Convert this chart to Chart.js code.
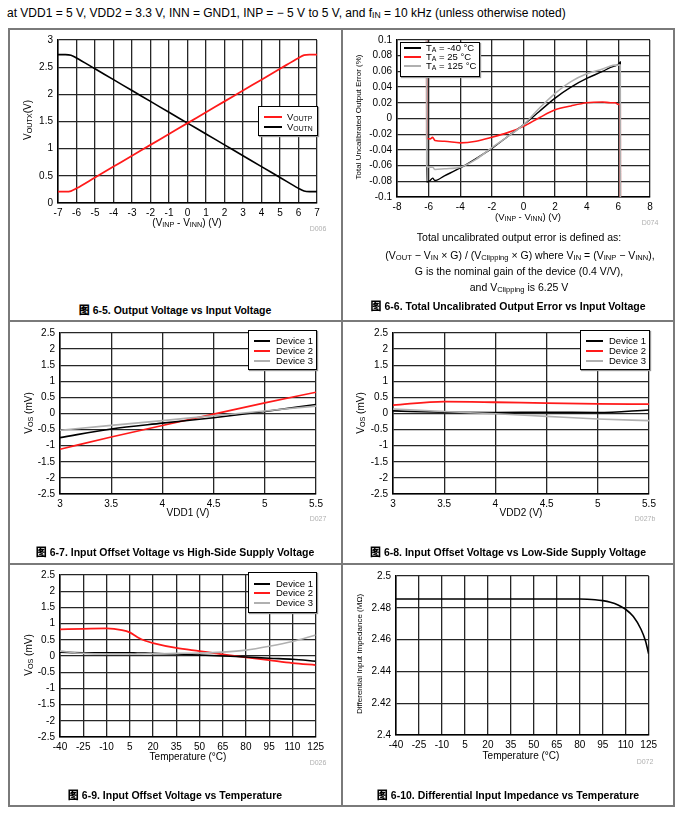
<!DOCTYPE html>
<html><head><meta charset="utf-8">
<script src="https://cdn.jsdelivr.net/npm/chart.js@4.4.1/dist/chart.umd.min.js"></script>
<style>
html,body{margin:0;padding:0;background:#fff;}
body{width:686px;height:821px;position:relative;overflow:hidden;font-family:'Liberation Sans',Arial,sans-serif;color:#000;}
.t{position:absolute;white-space:nowrap;transform:translate(-50%,-50%);line-height:1;}
.r{transform:translate(-50%,-50%) rotate(-90deg);}
sub{font-size:0.72em;vertical-align:-0.15em;line-height:0;}
.cap{font-weight:bold;font-size:10.5px;}
.cap .g{font-family:'Noto Sans CJK SC';font-weight:900;font-size:11px;margin-right:3px;}
.dn{color:#b0b0b0;font-size:7px;}
.ln{position:absolute;background:#7a7a7a;}
.lg{position:absolute;background:#fff;border:1px solid #000;box-shadow:1px 1px 1px #999;font-size:9.5px;}
.lr{position:absolute;left:0;white-space:nowrap;line-height:1;}
.sw{position:absolute;height:2px;}
canvas{position:absolute;}
</style></head><body>
<div class="t" style="left:7px;top:13px;transform:translate(0,-50%);font-size:12px;">at VDD1 = 5 V, VDD2 = 3.3 V, INN = GND1, INP = &#8722; 5 V to 5 V, and f<sub>IN</sub> = 10 kHz (unless otherwise noted)</div>

<div class="ln" style="left:9px;top:28px;width:666px;height:2px;"></div>
<div class="ln" style="left:9px;top:805px;width:666px;height:2px;"></div>
<div class="ln" style="left:8px;top:28px;width:2px;height:779px;"></div>
<div class="ln" style="left:673px;top:28px;width:2px;height:779px;"></div>
<div class="ln" style="left:341px;top:28px;width:2px;height:779px;"></div>
<div class="ln" style="left:9px;top:320px;width:666px;height:2px;"></div>
<div class="ln" style="left:9px;top:563px;width:666px;height:2px;"></div>

<canvas id="c1"></canvas><canvas id="c2"></canvas><canvas id="c3"></canvas>
<canvas id="c4"></canvas><canvas id="c5"></canvas><canvas id="c6"></canvas>

<!-- chart 1 texts -->
<div class="t r" style="left:28px;top:120px;font-size:10px;">V<sub>OUTX</sub>(V)</div>
<div class="t" style="left:187px;top:223px;font-size:10px;">(V<sub>INP</sub> - V<sub>INN</sub>) (V)</div>
<div class="t dn" style="left:318px;top:228px;">D006</div>
<div class="t cap" style="left:175px;top:310px;"><span class="g">图</span>6-5. Output Voltage vs Input Voltage</div>
<div class="lg" style="left:258px;top:106px;width:58px;height:28px;">
 <div class="sw" style="left:5px;top:9px;width:18px;background:#ff1a1a;"></div><div class="lr" style="left:28px;top:5px;">V<sub>OUTP</sub></div>
 <div class="sw" style="left:5px;top:19px;width:18px;background:#000;"></div><div class="lr" style="left:28px;top:15px;">V<sub>OUTN</sub></div>
</div>

<!-- chart 2 texts -->
<div class="t r" style="left:359px;top:117px;font-size:8px;">Total Uncalibrated Output Error (%)</div>
<div class="t" style="left:528px;top:217px;font-size:9.5px;">(V<sub>INP</sub> - V<sub>INN</sub>) (V)</div>
<div class="t dn" style="left:650px;top:222px;">D074</div>
<div class="t" style="left:519px;top:237px;font-size:10.5px;">Total uncalibrated output error is defined as:</div>
<div class="t" style="left:520px;top:255px;font-size:10.5px;">(V<sub>OUT</sub> &#8722; V<sub>IN</sub> × G) / (V<sub>Clipping</sub> × G) where V<sub>IN</sub> = (V<sub>INP</sub> &#8722; V<sub>INN</sub>),</div>
<div class="t" style="left:519px;top:271px;font-size:10.5px;">G is the nominal gain of the device (0.4 V/V),</div>
<div class="t" style="left:519px;top:287px;font-size:10.5px;">and V<sub>Clipping</sub> is 6.25 V</div>
<div class="t cap" style="left:508px;top:306px;"><span class="g">图</span>6-6. Total Uncalibrated Output Error vs Input Voltage</div>
<div class="lg" style="left:400px;top:42px;width:78px;height:33px;">
 <div class="sw" style="left:3px;top:4px;width:17px;background:#000;"></div><div class="lr" style="left:25px;top:0px;">T<sub>A</sub> = -40 °C</div>
 <div class="sw" style="left:3px;top:13px;width:17px;background:#ff1a1a;"></div><div class="lr" style="left:25px;top:9px;">T<sub>A</sub> = 25 °C</div>
 <div class="sw" style="left:3px;top:22px;width:17px;background:#b0b0b0;"></div><div class="lr" style="left:25px;top:18px;">T<sub>A</sub> = 125 °C</div>
</div>

<!-- chart 3 texts -->
<div class="t r" style="left:29px;top:413px;font-size:10px;">V<sub>OS</sub> (mV)</div>
<div class="t" style="left:188px;top:513px;font-size:10px;">VDD1 (V)</div>
<div class="t dn" style="left:318px;top:518px;">D027</div>
<div class="t cap" style="left:175px;top:552px;"><span class="g">图</span>6-7. Input Offset Voltage vs High-Side Supply Voltage</div>
<div class="lg" style="left:248px;top:330px;width:67px;height:38px;">
 <div class="sw" style="left:5px;top:9px;width:16px;background:#000;"></div><div class="lr" style="left:27px;top:5px;">Device 1</div>
 <div class="sw" style="left:5px;top:19px;width:16px;background:#ff1a1a;"></div><div class="lr" style="left:27px;top:15px;">Device 2</div>
 <div class="sw" style="left:5px;top:29px;width:16px;background:#b0b0b0;"></div><div class="lr" style="left:27px;top:25px;">Device 3</div>
</div>

<!-- chart 4 texts -->
<div class="t r" style="left:361px;top:413px;font-size:10px;">V<sub>OS</sub> (mV)</div>
<div class="t" style="left:521px;top:513px;font-size:10px;">VDD2 (V)</div>
<div class="t dn" style="left:645px;top:518px;">D027b</div>
<div class="t cap" style="left:508px;top:552px;"><span class="g">图</span>6-8. Input Offset Voltage vs Low-Side Supply Voltage</div>
<div class="lg" style="left:580px;top:330px;width:68px;height:38px;">
 <div class="sw" style="left:5px;top:9px;width:17px;background:#000;"></div><div class="lr" style="left:28px;top:5px;">Device 1</div>
 <div class="sw" style="left:5px;top:19px;width:17px;background:#ff1a1a;"></div><div class="lr" style="left:28px;top:15px;">Device 2</div>
 <div class="sw" style="left:5px;top:29px;width:17px;background:#b0b0b0;"></div><div class="lr" style="left:28px;top:25px;">Device 3</div>
</div>

<!-- chart 5 texts -->
<div class="t r" style="left:29px;top:655px;font-size:10px;">V<sub>OS</sub> (mV)</div>
<div class="t" style="left:188px;top:757px;font-size:10px;">Temperature (°C)</div>
<div class="t dn" style="left:318px;top:762px;">D026</div>
<div class="t cap" style="left:175px;top:795px;"><span class="g">图</span>6-9. Input Offset Voltage vs Temperature</div>
<div class="lg" style="left:248px;top:572px;width:67px;height:39px;">
 <div class="sw" style="left:5px;top:10px;width:16px;background:#000;"></div><div class="lr" style="left:27px;top:6px;">Device 1</div>
 <div class="sw" style="left:5px;top:19px;width:16px;background:#ff1a1a;"></div><div class="lr" style="left:27px;top:15px;">Device 2</div>
 <div class="sw" style="left:5px;top:29px;width:16px;background:#b0b0b0;"></div><div class="lr" style="left:27px;top:25px;">Device 3</div>
</div>

<!-- chart 6 texts -->
<div class="t r" style="left:360px;top:654px;font-size:8px;">Differential Input Impedance (MΩ)</div>
<div class="t" style="left:521px;top:756px;font-size:10px;">Temperature (°C)</div>
<div class="t dn" style="left:645px;top:761px;">D072</div>
<div class="t cap" style="left:508px;top:795px;"><span class="g">图</span>6-10. Differential Input Impedance vs Temperature</div>

<script>
// ---------- DATA ----------
// 6-5 Output voltage vs input voltage
const vin1 = [-7, -6.6, -6.3, -6, -5, -4, -3, -2, -1, 0, 1, 2, 3, 4, 5, 6, 6.3, 6.6, 7];
const voutp = [0.21, 0.21, 0.22, 0.27, 0.47, 0.67, 0.87, 1.07, 1.27, 1.47, 1.67, 1.87, 2.07, 2.27, 2.47, 2.67, 2.72, 2.73, 2.73];
const voutn = [2.73, 2.73, 2.72, 2.67, 2.47, 2.27, 2.07, 1.87, 1.67, 1.47, 1.27, 1.07, 0.87, 0.67, 0.47, 0.27, 0.22, 0.21, 0.21];
const xTicks1 = [-7, -6, -5, -4, -3, -2, -1, 0, 1, 2, 3, 4, 5, 6, 7];
const yTicks1 = [0, 0.5, 1, 1.5, 2, 2.5, 3];

// 6-6 Total uncalibrated output error (first/last points are off-scale clipping jumps)
const vin2 = [-6.13, -6.12, -5.9, -5.75, -5.6, -5, -4, -3, -2, -1, 0, 1, 2, 3, 4, 5, 5.5, 5.8, 6, 6.12, 6.13];
const errM40 = [0.3, -0.081, -0.079, -0.076, -0.079, -0.073, -0.063, -0.051, -0.038, -0.023, -0.008, 0.009, 0.026, 0.040, 0.051, 0.060, 0.065, 0.067, 0.069, 0.072, -0.3];
const err25 = [0.3, -0.025, -0.026, -0.024, -0.028, -0.029, -0.031, -0.029, -0.024, -0.018, -0.010, 0.001, 0.011, 0.016, 0.020, 0.021, 0.020, 0.020, 0.018, 0.018, -0.3];
const err125 = [0.3, -0.061, -0.062, -0.062, -0.065, -0.064, -0.062, -0.052, -0.037, -0.023, -0.008, 0.013, 0.032, 0.047, 0.057, 0.063, 0.067, 0.068, 0.068, 0.068, -0.3];
const xTicks2 = [-8, -6, -4, -2, 0, 2, 4, 6, 8];
const yTicks2 = [-0.1, -0.08, -0.06, -0.04, -0.02, 0, 0.02, 0.04, 0.06, 0.08, 0.1];

// 6-7 Vos vs VDD1
const vdd1 = [3, 3.5, 4, 4.5, 5, 5.5];
const vos7d1 = [-0.75, -0.48, -0.30, -0.13, 0.06, 0.28];
const vos7d2 = [-1.11, -0.73, -0.37, -0.02, 0.33, 0.66];
const vos7d3 = [-0.52, -0.37, -0.22, -0.07, 0.08, 0.23];

// 6-8 Vos vs VDD2
const vdd2 = [3, 3.5, 4, 4.5, 5, 5.5];
const vos8d1 = [0.08, 0.04, 0.03, 0.04, 0.03, 0.11];
const vos8d2 = [0.26, 0.37, 0.35, 0.32, 0.30, 0.29];
const vos8d3 = [0.14, 0.06, -0.01, -0.09, -0.17, -0.22];
const xTicksV = [3, 3.5, 4, 4.5, 5, 5.5];
const yTicksV = [-2.5, -2, -1.5, -1, -0.5, 0, 0.5, 1, 1.5, 2, 2.5];

// 6-9 Vos vs temperature
const temp9 = [-40, -25, -10, 0, 5, 10, 15, 20, 35, 50, 65, 80, 95, 110, 125];
const vos9d1 = [0.12, 0.10, 0.10, 0.10, 0.10, 0.09, 0.09, 0.08, 0.06, 0.03, 0.00, -0.03, -0.07, -0.10, -0.16];
const vos9d2 = [0.82, 0.84, 0.85, 0.80, 0.73, 0.58, 0.47, 0.40, 0.25, 0.15, 0.05, -0.04, -0.13, -0.22, -0.28];
const vos9d3 = [0.15, 0.08, 0.06, 0.06, 0.06, 0.065, 0.07, 0.07, 0.08, 0.09, 0.12, 0.18, 0.30, 0.45, 0.65];
const xTicksT = [-40, -25, -10, 5, 20, 35, 50, 65, 80, 95, 110, 125];

// 6-10 Differential input impedance vs temperature
const temp10 = [-40, -25, -10, 5, 20, 35, 50, 65, 80, 85, 90, 95, 100, 105, 110, 115, 120, 123, 125];
const zin = [2.4855, 2.4855, 2.4855, 2.4855, 2.4855, 2.4855, 2.4855, 2.4855, 2.4855, 2.4854, 2.4851, 2.4845, 2.4835, 2.4818, 2.479, 2.4745, 2.4665, 2.459, 2.451];
const yTicks10 = [2.4, 2.42, 2.44, 2.46, 2.48, 2.5];

// ---------- DRAW ----------
const FAM = "'Liberation Sans', Arial, sans-serif";
const RED = '#ff1a1a', BLK = '#000000', GRY = '#b0b0b0';

function pts(xs, ys) { return xs.map((x, i) => ({ x: x, y: ys[i] })); }
function ds(label, xs, ys, color, w) {
  return { label, data: pts(xs, ys), borderColor: color, borderWidth: w || 1.6, pointRadius: 0,
           cubicInterpolationMode: 'monotone', fill: false };
}
function axis(ticks, isX) {
  return {
    type: 'linear', min: ticks[0], max: ticks[ticks.length - 1],
    afterBuildTicks: s => { s.ticks = ticks.map(v => ({ value: v })); },
    afterFit: s => { if (isX) s.height = 20; else s.width = 40; },
    ticks: { font: { family: FAM, size: 10 }, color: '#000', padding: isX ? 4 : 5, maxRotation: 0, autoSkip: false,
             callback: v => String(v) },
    grid: { color: '#262626', lineWidth: 1.3, drawTicks: false },
    border: { color: '#000', width: 1.5 }
  };
}
function make(id, box, xt, yt, datasets) {
  const [L, T, R, B] = box;
  const c = document.getElementById(id);
  const w = R - L + 52, h = B - T + 28;
  c.width = w; c.height = h;
  c.style.left = (L - 40) + 'px'; c.style.top = (T - 8) + 'px';
  c.style.width = w + 'px'; c.style.height = h + 'px';
  new Chart(c, {
    type: 'line',
    data: { datasets },
    options: {
      responsive: false, animation: false, devicePixelRatio: 1,
      layout: { padding: { left: 0, top: 8, right: 12, bottom: 0 } },
      plugins: { legend: { display: false }, tooltip: { enabled: false } },
      scales: { x: axis(xt, true), y: axis(yt, false) }
    }
  });
}

make('c1', [58, 37, 317, 203], xTicks1, yTicks1, [
  ds('VOUTP', vin1, voutp, RED, 1.8), ds('VOUTN', vin1, voutn, BLK, 1.6)]);
make('c2', [397, 37, 650, 197], xTicks2, yTicks2, [
  ds('TA = 125 °C', vin2, err125, GRY, 1.6), ds('TA = 25 °C', vin2, err25, RED, 1.6), ds('TA = -40 °C', vin2, errM40, BLK, 1.4)]);
make('c3', [60, 330, 316, 494], xTicksV, yTicksV, [
  ds('Device 3', vdd1, vos7d3, GRY, 1.6), ds('Device 1', vdd1, vos7d1, BLK, 1.6), ds('Device 2', vdd1, vos7d2, RED, 1.6)]);
make('c4', [393, 330, 649, 494], xTicksV, yTicksV, [
  ds('Device 3', vdd2, vos8d3, GRY, 1.6), ds('Device 1', vdd2, vos8d1, BLK, 1.6), ds('Device 2', vdd2, vos8d2, RED, 1.8)]);
make('c5', [60, 572, 316, 737], xTicksT, yTicksV, [
  ds('Device 3', temp9, vos9d3, GRY, 1.6), ds('Device 1', temp9, vos9d1, BLK, 1.6), ds('Device 2', temp9, vos9d2, RED, 1.8)]);
make('c6', [396, 573, 649, 735], xTicksT, yTicks10, [
  ds('Zin', temp10, zin, BLK, 1.6)]);
</script>
</body></html>
